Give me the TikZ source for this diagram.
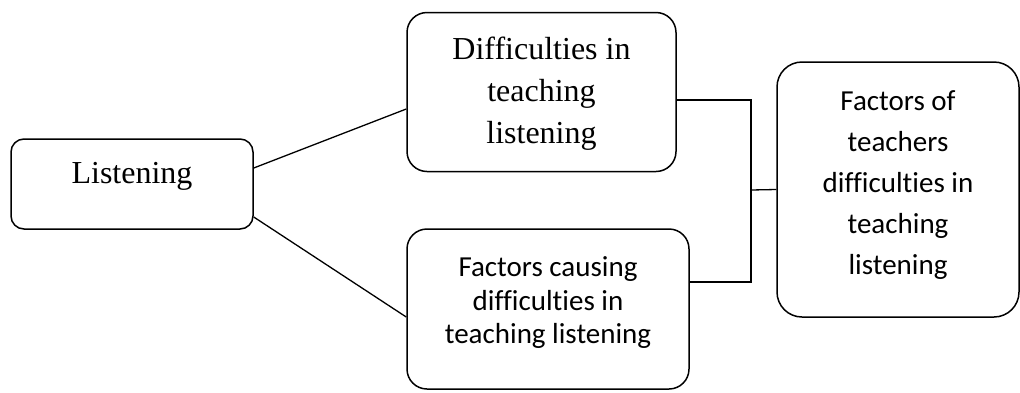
\documentclass[tikz,border=0pt]{standalone}
\usepackage{fontspec}
\setmainfont[Ligatures=NoCommon]{Liberation Serif}
\newfontfamily\calibri[Ligatures=NoCommon]{Carlito}
\usetikzlibrary{calc}

\begin{document}
\begin{tikzpicture}[x=1pt,y=-1pt,inner sep=0pt,line width=1.5pt,
	box/.style={draw,align=center,rounded corners=#1},box/.default=20pt,
	link/.style={line width=1.3pt}]
	
	\useasboundingbox (0,0) rectangle (1020,392);
	
	\node at (132,184) [box=13pt,minimum width=242pt,minimum height=90pt,font=\fontsize{32}{38}\selectfont,text height=22pt,text depth=24pt] (listen) {Listening};
	\node at (541.5,92) [box,minimum width=269pt,minimum height=159pt,font=\fontsize{32}{42}\selectfont,text depth=4pt] (diff) {Difficulties in\\teaching\\listening};
	\node at (548,309) [box,minimum width=282pt,minimum height=160pt,font=\calibri\fontsize{29}{33.5}\selectfont,text depth=17pt] (causing) {Factors causing\\difficulties in\\teaching listening};
	\node at (898,189.5) [box=25pt,minimum width=242pt,minimum height=255pt,font=\calibri\fontsize{29}{41}\selectfont,text depth=14pt] (teachers) {Factors of\\teachers\\difficulties in\\teaching\\listening};
	
	\coordinate (join) at (751,190);
	
	\path[link]
	([yshift=16pt]listen.east) edge ([yshift=-17pt]diff.west)
	([yshift=-33pt]listen.east) edge ([yshift=-8pt]causing.west)
	(join) edge (teachers.west)
	;
	
	\draw[link] ([yshift=-8pt]diff.east) -| (join) |- ([yshift=27pt]causing.east);
	
\end{tikzpicture}
\end{document}
